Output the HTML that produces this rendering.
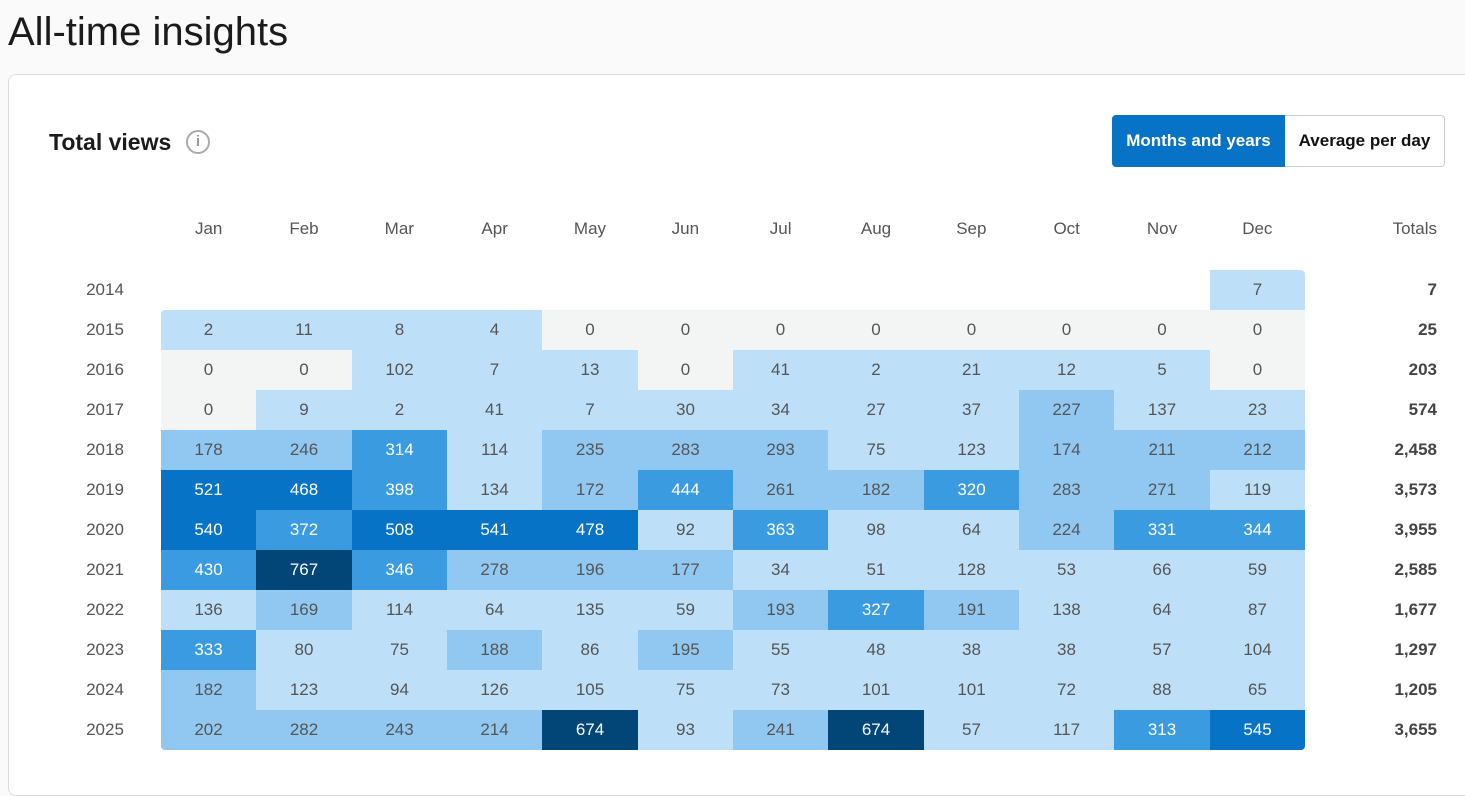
<!DOCTYPE html>
<html><head><meta charset="utf-8"><style>
html,body{margin:0;padding:0;width:1465px;height:768px;overflow:hidden;background:#fafafa;font-family:"Segoe UI","Liberation Sans",sans-serif}
h1{position:absolute;left:8px;top:8px;margin:0;font-weight:400;font-size:40px;color:#1b1b1b;line-height:48px}
.card{position:absolute;left:8px;top:74px;width:1480px;height:720px;background:#fff;border:1px solid #dcdcdc;border-radius:8px}
.t{position:absolute;left:49px;top:126px;font-size:23px;font-weight:600;color:#1b1b1b;line-height:32px}
.info{position:absolute;left:186px;top:130px;width:20px;height:20px;border:2px solid #aaa;border-radius:50%;color:#999;font-size:15px;text-align:center;line-height:20px;font-weight:700}
.b1{position:absolute;left:1112px;top:115px;width:173px;height:52px;background:#0773c6;color:#fff;border-radius:4px 0 0 4px;font-size:17px;font-weight:600;text-align:center;line-height:52px}
.b2{position:absolute;left:1285px;top:115px;width:159px;height:50px;border:1px solid #ccc;border-left:none;border-radius:0 4px 4px 0;background:#fff;color:#111;font-size:17px;font-weight:600;text-align:center;line-height:50px}
.m{position:absolute;top:218px;width:95px;text-align:center;font-size:17px;color:#555;line-height:22px}
.y{position:absolute;left:70px;width:70px;text-align:center;font-size:17px;color:#555;line-height:40px}
.c{position:absolute;height:40px;text-align:center;font-size:17px;line-height:40px;color:#555}
.tot{position:absolute;right:28px;font-size:17px;font-weight:700;color:#444;line-height:40px;text-align:right}
</style></head><body>
<h1>All-time insights</h1>
<div class="card"></div>
<div class="t">Total views</div><div class="info">i</div>
<div class="b1">Months and years</div><div class="b2">Average per day</div>
<div id="g"></div>
<div style="position:absolute;right:28px;top:218px;font-size:17px;color:#555;line-height:22px">Totals</div>
<script>
var months=["Jan","Feb","Mar","Apr","May","Jun","Jul","Aug","Sep","Oct","Nov","Dec"];
var d=[
[null,null,null,null,null,null,null,null,null,null,null,7,"7"],
[2,11,8,4,0,0,0,0,0,0,0,0,"25"],
[0,0,102,7,13,0,41,2,21,12,5,0,"203"],
[0,9,2,41,7,30,34,27,37,227,137,23,"574"],
[178,246,314,114,235,283,293,75,123,174,211,212,"2,458"],
[521,468,398,134,172,444,261,182,320,283,271,119,"3,573"],
[540,372,508,541,478,92,363,98,64,224,331,344,"3,955"],
[430,767,346,278,196,177,34,51,128,53,66,59,"2,585"],
[136,169,114,64,135,59,193,327,191,138,64,87,"1,677"],
[333,80,75,188,86,195,55,48,38,38,57,104,"1,297"],
[182,123,94,126,105,75,73,101,101,72,88,65,"1,205"],
[202,282,243,214,674,93,241,674,57,117,313,545,"3,655"]];
var h="",W=1144/12;
for(var i=0;i<12;i++){h+='<div class="m" style="left:'+(161+W*i)+'px;width:'+W+'px">'+months[i]+'</div>';}
for(var r=0;r<12;r++){var ty=270+40*r;
h+='<div class="y" style="top:'+ty+'px">'+(2014+r)+'</div>';
h+='<div class="tot" style="top:'+ty+'px">'+d[r][12]+'</div>';
for(var i=0;i<12;i++){var v=d[r][i];if(v===null)continue;
var bg,fg="#555";
if(v==0)bg="#f3f4f4";else if(v<160)bg="#bde0f8";else if(v<300)bg="#91c8f1";else if(v<460)bg="#3a9be0";else if(v<600)bg="#0773c6";else bg="#024677";
if(v>=300)fg="#fff";
var x0=Math.round(161+W*i),x1=Math.round(161+W*(i+1));
var rad="";
if(r==0&&i==11)rad="border-radius:0 4px 0 0;";
if(r==1&&i==0)rad="border-radius:4px 0 0 0;";
if(r==11&&i==0)rad="border-radius:0 0 0 4px;";
if(r==11&&i==11)rad="border-radius:0 0 4px 0;";
h+='<div class="c" style="left:'+x0+'px;width:'+(x1-x0)+'px;top:'+ty+'px;background:'+bg+';color:'+fg+';'+rad+'">'+v+'</div>';}}
document.getElementById("g").innerHTML=h;
</script>
</body></html>
